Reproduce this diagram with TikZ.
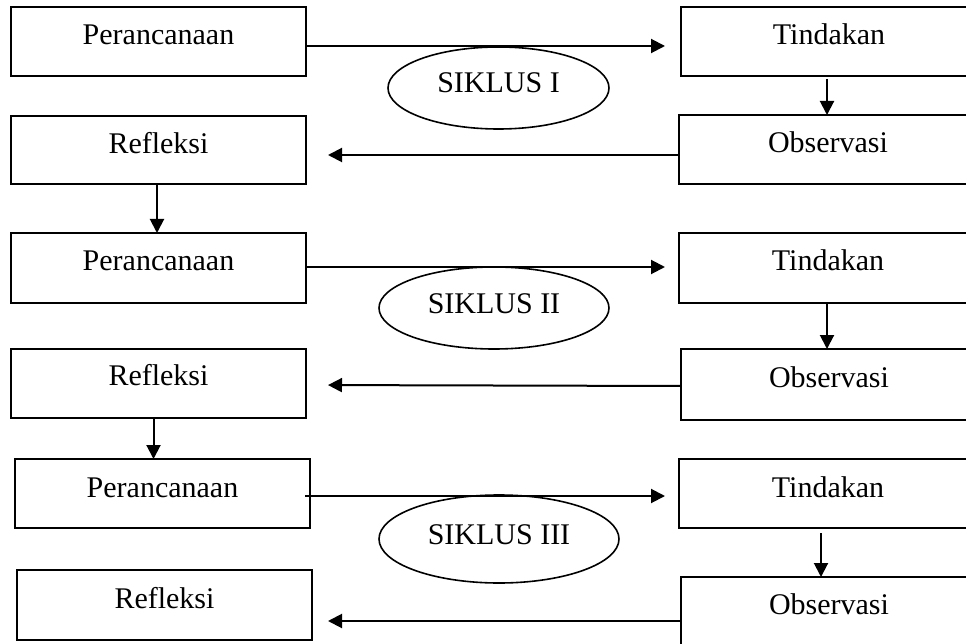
\documentclass[tikz,border=0pt]{standalone}
\usepackage{fontspec}
\setmainfont{Liberation Serif}
\usetikzlibrary{arrows.meta,shapes.geometric,calc}
\tikzset{
  boxnode/.style={draw, line width=2pt, inner sep=0pt, outer sep=0pt, anchor=north west, text height=38pt, font=\fontsize{30}{36}\selectfont},
  cyclenode/.style={draw, ellipse, line width=1.6pt, inner sep=0pt, text height=25pt, text depth=15pt, font=\fontsize{30}{36}\selectfont},
  arr/.style={line width=2pt, -{Triangle[length=14pt,width=14pt]}}
}
\begin{document}
\begin{tikzpicture}[x=1pt,y=-1pt]
\useasboundingbox (0,0) rectangle (966,644);
\clip (0,0) rectangle (966,644);
% cycle I
\node[boxnode, minimum width=295pt, text depth=31pt] (P1) at (11,7) {Perancanaan};
\node[boxnode, minimum width=296pt, text depth=31pt] (T1) at (681,7) {Tindakan};
\node[boxnode, minimum width=298pt, text depth=31pt] (O1) at (679,115) {Observasi};
\node[boxnode, minimum width=295pt, text depth=30pt] (R1) at (11,116) {Refleksi};
\node[cyclenode, minimum width=221pt, minimum height=82pt] (S1) at (498.5,88) {SIKLUS I};
% cycle II
\node[boxnode, minimum width=295pt, text depth=32pt] (P2) at (11,233) {Perancanaan};
\node[boxnode, minimum width=298pt, text depth=32pt] (T2) at (679,233) {Tindakan};
\node[boxnode, minimum width=296pt, text depth=33pt] (O2) at (681,349) {Observasi};
\node[boxnode, minimum width=295pt, text depth=33pt, text height=36pt] (R2) at (11,349) {Refleksi};
\node[cyclenode, minimum width=230pt, minimum height=82pt] (S2) at (494,308) {SIKLUS II};
% cycle III
\node[boxnode, minimum width=295pt, text depth=31pt] (P3) at (15,459) {Perancanaan};
\node[boxnode, minimum width=298pt, text depth=31pt] (T3) at (679,459) {Tindakan};
\node[boxnode, minimum width=296pt, text depth=32pt, text height=37pt] (O3) at (681,577) {Observasi};
\node[boxnode, minimum width=295pt, text depth=32pt] (R3) at (17,570) {Refleksi};
\node[cyclenode, minimum width=240pt, minimum height=88pt] (S3) at (499,539) {SIKLUS III};
% horizontal arrows
\draw[arr, shorten >=16pt] ($(P1.east)+(0,4.5)$) -- ($(T1.west)+(0,4.5)$);
\draw[arr, shorten >=14pt] ($(P2.east)+(0,-1)$) -- ($(T2.west)+(0,-1)$);
\draw[arr, shorten >=14pt] ($(P3.east)+(-5,2.5)$) -- ($(T3.west)+(0,2.5)$);
\draw[arr, shorten >=22pt] ($(O1.west)+(0,5.5)$) -- ($(R1.east)+(0,5)$);
\draw[arr, shorten >=22pt] ($(O2.west)+(0,1.5)$) -- ($(R2.east)+(0,1.5)$);
\draw[arr, shorten >=16pt] ($(O3.west)+(0,9.5)$) -- ($(R3.east)+(0,16)$);
% vertical arrows
\draw[arr, shorten <=3pt] (T1.south -| 827,0) -- (O1.north -| 827,0);
\draw[arr] (T2.south -| 827,0) -- (O2.north -| 827,0);
\draw[arr, shorten <=5pt] (T3.south -| 821,0) -- (O3.north -| 821,0);
\draw[arr] (R1.south -| 157,0) -- (P2.north -| 157,0);
\draw[arr] (R2.south -| 153.5,0) -- (P3.north -| 153.5,0);
\end{tikzpicture}
\end{document}
